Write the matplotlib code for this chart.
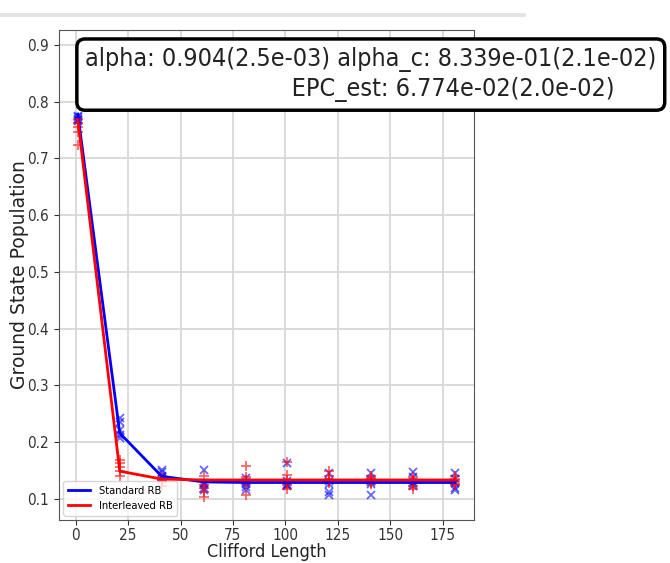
import matplotlib
matplotlib.use("Agg")
import matplotlib.pyplot as plt
import numpy as np

# RB survival data: standard (blue x) and interleaved (red +), 5 seeds per length
lengths = [1, 21, 41, 61, 81, 101, 121, 141, 161, 181]

std_fit = [0.778, 0.216, 0.140, 0.130, 0.129, 0.129, 0.129, 0.129, 0.129, 0.129]
int_fit = [0.768, 0.149, 0.135, 0.1335, 0.1335, 0.1335, 0.1335, 0.1335, 0.1335, 0.1335]

std_points = [
    [0.775, 0.770, 0.767, 0.772, 0.765],
    [0.243, 0.236, 0.222, 0.212, 0.207],
    [0.151, 0.147, 0.140, 0.138, 0.136],
    [0.151, 0.129, 0.124, 0.120, 0.116],
    [0.137, 0.130, 0.126, 0.121, 0.116],
    [0.163, 0.131, 0.127, 0.125, 0.122],
    [0.146, 0.132, 0.127, 0.112, 0.107],
    [0.145, 0.135, 0.130, 0.127, 0.107],
    [0.148, 0.138, 0.130, 0.126, 0.122],
    [0.146, 0.136, 0.128, 0.120, 0.116],
]
int_points = [
    [0.763, 0.747, 0.724, 0.770, 0.755],
    [0.169, 0.163, 0.156, 0.150, 0.140],
    [0.138, 0.123, 0.135, 0.133, 0.131],
    [0.140, 0.125, 0.119, 0.113, 0.104],
    [0.158, 0.139, 0.133, 0.126, 0.107],
    [0.165, 0.142, 0.133, 0.125, 0.118],
    [0.149, 0.140, 0.135, 0.130, 0.128],
    [0.140, 0.137, 0.133, 0.129, 0.126],
    [0.139, 0.134, 0.128, 0.122, 0.117],
    [0.140, 0.136, 0.131, 0.127, 0.124],
]

line1 = "alpha: 0.904(2.5e-03) alpha_c: 8.339e-01(2.1e-02)"
line2 = "EPC_est: 6.774e-02(2.0e-02)"

plt.rcParams['font.family'] = ['DejaVu Sans']
plt.rcParams['font.stretch'] = 'condensed'

fig = plt.figure(figsize=(6.7, 5.63), dpi=100)
ax = fig.add_axes([0.088, 0.0764, 0.6195, 0.8703])

for i, x in enumerate(lengths):
    ax.plot([x] * len(std_points[i]), std_points[i], 'x', color='blue', alpha=0.6, ms=6, mew=1.3)
    ax.plot([x] * len(int_points[i]), int_points[i], '+', color='red', alpha=0.6, ms=7, mew=1.3)

ax.plot(lengths, std_fit, color='blue', lw=2, label='Standard RB')
ax.plot(lengths, int_fit, color='red', lw=2, label='Interleaved RB')

ax.set_xlim(-8, 190)
ax.set_ylim(0.063, 0.926)
ax.set_xticks([0, 25, 50, 75, 100, 125, 150, 175])
ax.set_yticks([0.1, 0.2, 0.3, 0.4, 0.5, 0.6, 0.7, 0.8, 0.9])
ax.tick_params(labelsize=11, colors='#333333', length=3.5)
ax.tick_params(axis='x', pad=2.5)
ax.grid(True, color='#d8d8d8', lw=1.3)
ax.set_xlabel('Clifford Length', fontsize=13, color='#222222', labelpad=0)
ax.set_ylabel('Ground State Population', fontsize=13.5, color='#222222',
              labelpad=-1, fontstretch='normal')
for s in ax.spines.values():
    s.set_color('#555555')

ax.legend(loc='lower left', fontsize=8, borderaxespad=0.4, framealpha=0.8)

# fit summary box; shrink font until first line spans about 572 px
fs = 19
t1 = ax.text(0.063, 0.935, line1, transform=ax.transAxes, ha='left', va='center',
             fontsize=fs, color='#222222', clip_on=False)
fig.canvas.draw()
w = t1.get_window_extent().width
fs = fs * 572.0 / w
t1.remove()

sp = ax.text(0, 0, " " * 10, fontsize=fs)
fig.canvas.draw()
space_w = sp.get_window_extent().width / 10.0
sp.remove()
# indent the second line so it starts near x = 290 px
n_sp = int(round((290 - 85) / space_w))

ax.text(0.063, 0.909, line1 + "\n" + " " * n_sp + line2, transform=ax.transAxes,
        ha='left', va='center', fontsize=fs, color='#222222', clip_on=False,
        multialignment='left', linespacing=1.25,
        bbox=dict(boxstyle='round,pad=0.33', ec='black', fc='white', lw=2.5))

# grey strip at the very top of the cell
fig.add_artist(plt.Rectangle((0, 0.97), 0.785, 0.007, transform=fig.transFigure,
                             color='#e4e4e4', lw=0))

fig.savefig('out.png', dpi=100)
